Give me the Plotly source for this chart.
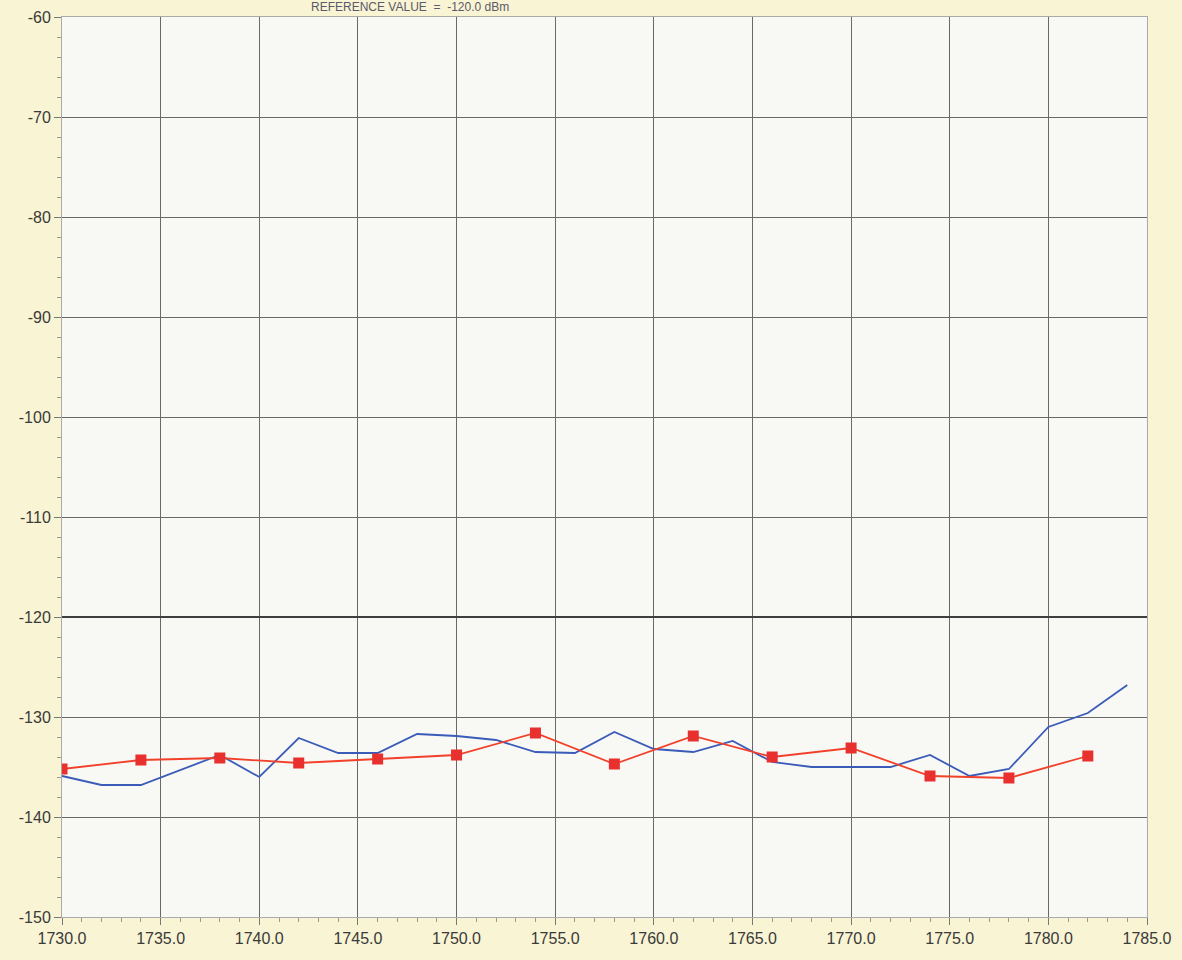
import plotly.graph_objects as go

# Blue trace (every 2 MHz)
blue_x = [1730, 1732, 1734, 1736, 1738, 1740, 1742, 1744, 1746, 1748, 1750, 1752, 1754, 1756,
          1758, 1760, 1762, 1764, 1766, 1768, 1770, 1772, 1774, 1776, 1778, 1780, 1782, 1784]
blue_y = [-135.9, -136.8, -136.8, -135.3, -133.8, -136.0, -132.1, -133.6, -133.6, -131.7, -131.9,
          -132.3, -133.5, -133.6, -131.5, -133.2, -133.5, -132.4, -134.5, -135.0, -135.0, -135.0,
          -133.8, -135.9, -135.2, -131.0, -129.6, -126.8]

# Red trace with square markers (every 4)
red_x = [1730, 1734, 1738, 1742, 1746, 1750, 1754, 1758, 1762, 1766, 1770, 1774, 1778, 1782]
red_y = [-135.2, -134.3, -134.1, -134.6, -134.2, -133.8, -131.6, -134.7, -131.9, -134.0,
         -133.1, -135.9, -136.1, -133.9]

reference_value = -120.0

x_range = [1730, 1785]
y_range = [-150, -60]
x_ticks = [1730, 1735, 1740, 1745, 1750, 1755, 1760, 1765, 1770, 1775, 1780, 1785]
y_ticks = [-150, -140, -130, -120, -110, -100, -90, -80, -70, -60]
x_labels = [f"{v:.1f}" for v in x_ticks]
y_labels = [str(v) for v in y_ticks]
ref_text = f"REFERENCE VALUE  =  {reference_value:.1f} dBm"

FONT = "Liberation Sans, Arial, sans-serif"
PAPER = "#f9f4d4"

fig = go.Figure()
# reference level line
fig.add_trace(go.Scatter(x=x_range, y=[reference_value, reference_value], mode="lines",
                         line=dict(color="#3f3f3f", width=2), showlegend=False, hoverinfo="skip"))
fig.add_trace(go.Scatter(x=blue_x, y=blue_y, mode="lines",
                         line=dict(color="#3a5bb8", width=1.8), showlegend=False))
fig.add_trace(go.Scatter(x=red_x, y=red_y, mode="lines+markers",
                         line=dict(color="#f2402a", width=1.8),
                         marker=dict(symbol="square", size=11, color="#e8312f"),
                         showlegend=False, cliponaxis=True))

fig.update_layout(
    width=1182, height=960,
    margin=dict(l=62, r=35, t=17, b=43, autoexpand=False),
    paper_bgcolor=PAPER,
    plot_bgcolor="#f8f8f5",
    font=dict(family=FONT, size=16, color="#3a3a3a"),
)
fig.add_annotation(text=ref_text, xref="paper", yref="paper",
                   x=0.228, y=1.0, xanchor="left", yanchor="bottom", yshift=1,
                   showarrow=False, font=dict(family=FONT, size=12, color="#5a5a6a"))

fig.update_xaxes(range=x_range, tickvals=x_ticks, ticktext=x_labels,
                 showgrid=True, gridcolor="#686868", gridwidth=1.2,
                 showline=True, linecolor="#aaaaaa", linewidth=1, mirror=True,
                 ticks="outside", ticklen=7, tickcolor="#777777",
                 ticklabeloverflow="allow",
                 minor=dict(dtick=1, ticks="outside", ticklen=4, tickcolor="#999999", showgrid=False),
                 zeroline=False)
fig.update_yaxes(range=y_range, tickvals=y_ticks, ticktext=y_labels,
                 showgrid=True, gridcolor="#686868", gridwidth=1.2,
                 showline=True, linecolor="#aaaaaa", linewidth=1, mirror=True,
                 ticks="outside", ticklen=7, tickcolor="#777777",
                 ticklabeloverflow="allow",
                 minor=dict(dtick=2, ticks="outside", ticklen=4, tickcolor="#999999", showgrid=False),
                 zeroline=False)

fig.write_html(
    "out.html",
    config={"displayModeBar": False},
    post_script=(
        "document.body.style.margin='0';"
        f"document.body.style.background='{PAPER}';"
        "document.documentElement.style.background='" + PAPER + "';"
    ),
)
